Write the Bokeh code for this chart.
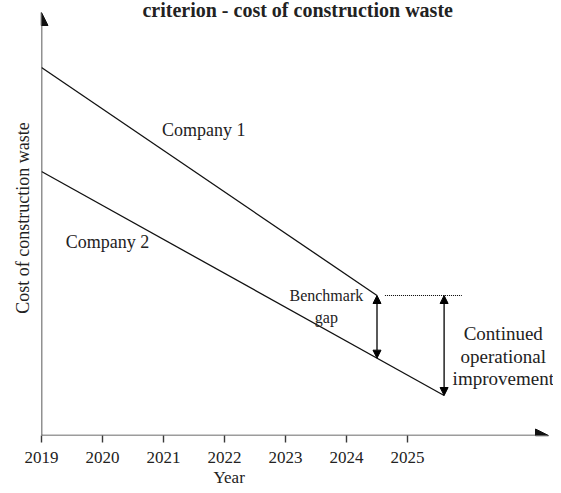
import numpy as np
from bokeh.plotting import figure
from bokeh.models import Range1d, FixedTicker, Arrow, NormalHead, Label, Title
from bokeh.embed import file_html
from bokeh.resources import INLINE

# ---- data ----
years = [2019, 2020, 2021, 2022, 2023, 2024, 2025]
tick_labels = ["2019", "2020", "2021", "2022", "2023", "2024", "2025"]
company1_x = [2019.0, 2024.5]
company1_y = [92.0, 35.0]
company2_x = [2019.0, 2025.6]
company2_y = [66.0, 10.0]
series_names = ["Company 1", "Company 2"]
title_text = "criterion - cost of construction waste"
x_title = "Year"
y_title = "Cost of construction waste"

FONT = "Liberation Serif"
PX_PER_YEAR = 61.0

p = figure(width=553, height=490, output_backend="svg", toolbar_location=None,
           x_range=Range1d(2019, 2019 + 512 / PX_PER_YEAR), y_range=Range1d(0, 108.75),
           min_border_left=41, min_border_right=0, min_border_top=0, min_border_bottom=55)
p.outline_line_color = None
p.xgrid.visible = False
p.ygrid.visible = False
p.background_fill_color = "white"
p.border_fill_color = "white"

# x axis (line drawn as an arrow below)
xa = p.xaxis[0]
xa.ticker = FixedTicker(ticks=years)
xa.major_label_overrides = {y: l for y, l in zip(years, tick_labels)}
xa.major_tick_in = 0
xa.major_tick_out = 7
xa.minor_tick_line_color = None
xa.axis_line_color = None
xa.major_tick_line_color = "#3a3a3a"
xa.major_tick_line_width = 1.4
xa.major_label_text_font = FONT
xa.major_label_text_font_size = "17px"
xa.major_label_text_color = "#222222"
xa.major_label_standoff = 9

# x axis title, placed under the axis
p.add_layout(Title(text=x_title, align="left", offset=172, standoff=0,
                   text_font=FONT, text_font_size="17px", text_font_style="normal",
                   text_color="#222222"), "below")

# y axis (line drawn as an arrow below)
ya = p.yaxis[0]
ya.ticker = FixedTicker(ticks=[])
ya.minor_tick_line_color = None
ya.major_tick_line_color = None
ya.major_label_text_font_size = "0px"
ya.axis_line_color = None
ya.axis_label = y_title
ya.axis_label_text_font = FONT
ya.axis_label_text_font_style = "normal"
ya.axis_label_text_font_size = "18px"
ya.axis_label_text_color = "#222222"
ya.axis_label_standoff = 9

# axis arrows
xtip = 2019 + 507 / PX_PER_YEAR
ytop = 105.75
p.add_layout(Arrow(end=NormalHead(size=13, fill_color="#111111", line_color="#111111"),
                   x_start=2019, y_start=0, x_end=xtip, y_end=0,
                   line_color="#3a3a3a", line_width=1.6))
p.add_layout(Arrow(end=NormalHead(size=13, fill_color="#111111", line_color="#111111"),
                   x_start=2019, y_start=0, x_end=2019, y_end=ytop,
                   line_color="#222222", line_width=1.5))

# company lines
p.line(company1_x, company1_y, line_color="#111111", line_width=1.3)
p.line(company2_x, company2_y, line_color="#111111", line_width=1.3)

# benchmark gap arrow
gap_x = company1_x[-1]
gap_y_low = float(np.interp(gap_x, company2_x, company2_y))
p.add_layout(Arrow(start=NormalHead(size=8, fill_color="black", line_color="black"),
                   end=NormalHead(size=8, fill_color="black", line_color="black"),
                   x_start=gap_x, y_start=company1_y[-1], x_end=gap_x, y_end=gap_y_low,
                   line_color="black", line_width=1.3))

# dotted reference line at company 1 end level
p.segment(x0=[gap_x + 0.13], y0=[company1_y[-1]], x1=[2025.89], y1=[company1_y[-1]],
          line_color="black", line_width=1.2, line_dash="1 1")

# continued improvement arrow
p.add_layout(Arrow(start=NormalHead(size=8, fill_color="black", line_color="black"),
                   end=NormalHead(size=8, fill_color="black", line_color="black"),
                   x_start=company2_x[-1], y_start=company1_y[-1],
                   x_end=company2_x[-1], y_end=company2_y[-1],
                   line_color="black", line_width=1.3))

def lab(x, y, t, size="18px", style="normal"):
    p.add_layout(Label(x=x, y=y, text=t, text_font=FONT, text_font_size=size,
                       text_font_style=style, text_color="#222222",
                       text_align="center", text_baseline="middle"))

lab(2021.66, 76.5, series_names[0])
lab(2020.08, 48.5, series_names[1])
lab(2023.67, 35.0, "Benchmark", size="16px")
lab(2023.67, 29.5, "gap", size="16px")
lab(2026.57, 25.5, "Continued", size="19px")
lab(2026.57, 19.75, "operational", size="19px")
lab(2026.57, 14.25, "improvement", size="19px")
lab(2023.2, 106.5, title_text, size="20px", style="bold")

open("out.html", "w").write(file_html(p, INLINE))
